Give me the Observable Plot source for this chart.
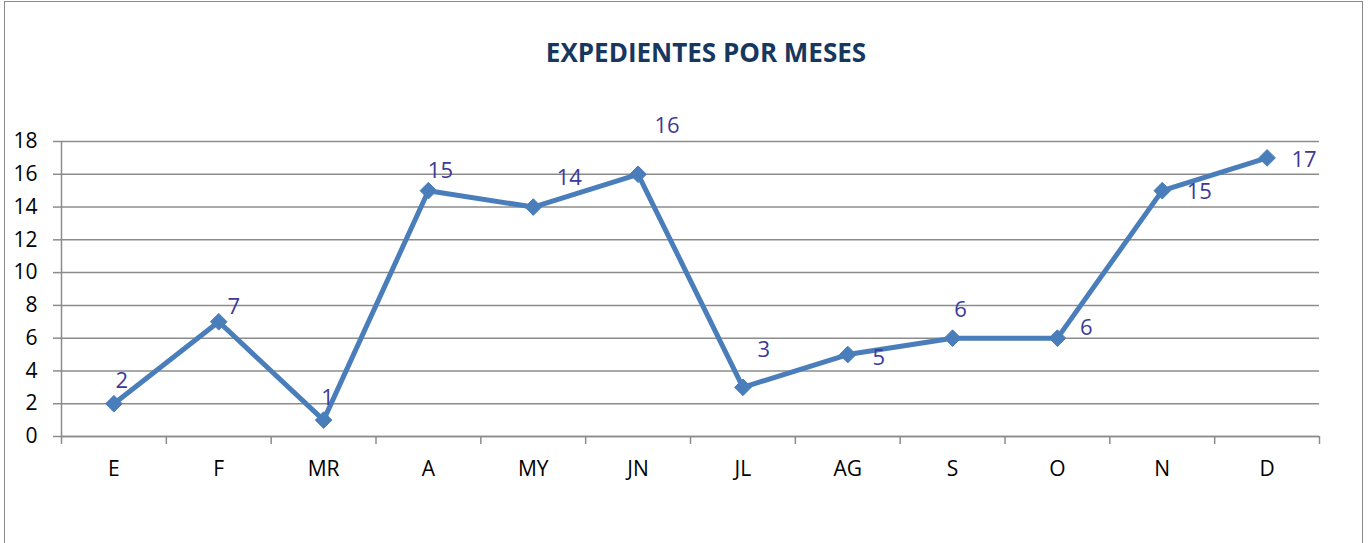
<!DOCTYPE html>
<html>
<head>
<meta charset="utf-8">
<script src="https://cdn.jsdelivr.net/npm/d3@7"></script>
<script src="https://cdn.jsdelivr.net/npm/@observablehq/plot@0.6"></script>
<style>
  html, body { margin: 0; padding: 0; background: #fff; }
  #wrap { position: relative; width: 1369px; height: 543px; overflow: hidden; }
  #frame { position: absolute; left: 4px; top: 1px; width: 1359px; height: 560px; border: 1.5px solid #8a8a8a; box-sizing: border-box; }
  #title { position: absolute; left: 0; width: 1412px; top: 34px; text-align: center;
           font-family: "Open Sans", sans-serif; font-weight: bold; font-size: 26px; color: #17375E; letter-spacing: 0px; }
  #chart { position: absolute; left: 0; top: 0; }
</style>
</head>
<body>
<div id="wrap">
  <div id="frame"></div>
  <div id="title">EXPEDIENTES POR MESES</div>
  <div id="chart"></div>
</div>
<script>
const months = ["E", "F", "MR", "A", "MY", "JN", "JL", "AG", "S", "O", "N", "D"];
const values = [2, 7, 1, 15, 14, 16, 3, 5, 6, 6, 15, 17];
const yTicks = [0, 2, 4, 6, 8, 10, 12, 14, 16, 18];
// data-label offsets (px) as placed in the original chart
const labelOffsets = [[8,-23],[15,-15],[4,-22],[12,-20],[36,-29],[29,-48],[21,-37],[31,3],[8,-28],[29,-10],[37,1],[37,2]];

const data = months.map((m, i) => ({month: m, pos: i + 0.5, value: values[i]}));
const boundaries = d3.range(0, months.length + 1);

const gridColor = "#8c8c8c";
const font = "Open Sans, sans-serif";

const chart = Plot.plot({
  width: 1369,
  height: 543,
  marginLeft: 61,
  marginRight: 50,
  marginTop: 141,
  marginBottom: 107,
  style: {fontFamily: font, fontSize: "21px", color: "#000", background: "transparent", overflow: "visible"},
  x: {type: "linear", domain: [0, months.length]},
  y: {domain: [0, 18]},
  marks: [
    Plot.gridY(yTicks, {stroke: gridColor, strokeOpacity: 1, strokeWidth: 1.5, x1: 0, x2: months.length}),
    Plot.axisY(yTicks, {tickSize: 8, tickPadding: 16, stroke: gridColor, strokeWidth: 1.5, label: null, fill: "#000", fontSize: 21}),
    Plot.ruleX([0], {stroke: gridColor, strokeWidth: 1.5}),
    Plot.ruleY([0], {stroke: gridColor, strokeWidth: 1.5}),
    Plot.axisX(boundaries, {tickSize: 8, stroke: gridColor, strokeWidth: 1.5, tickFormat: () => "", label: null}),
    Plot.axisX(data.map(d => d.pos), {tickSize: 0, tickPadding: 25, tickFormat: (d) => months[Math.round(d - 0.5)], label: null, fill: "#000", fontSize: 21}),
    Plot.line(data, {x: "pos", y: "value", stroke: "#4A7EBB", strokeWidth: 5, strokeLinejoin: "miter"}),
    Plot.dot(data, {x: "pos", y: "value", symbol: "diamond2", r: 7.5, fill: "#4A7EBB", stroke: "#4A7EBB", strokeWidth: 1}),
    ...data.map((d, i) => Plot.text([d], {
      x: "pos", y: "value", text: d => String(d.value),
      dx: labelOffsets[i][0], dy: labelOffsets[i][1],
      fill: "#3C3A98", fontSize: 22
    }))
  ]
});
document.getElementById("chart").appendChild(chart);
</script>
</body>
</html>
